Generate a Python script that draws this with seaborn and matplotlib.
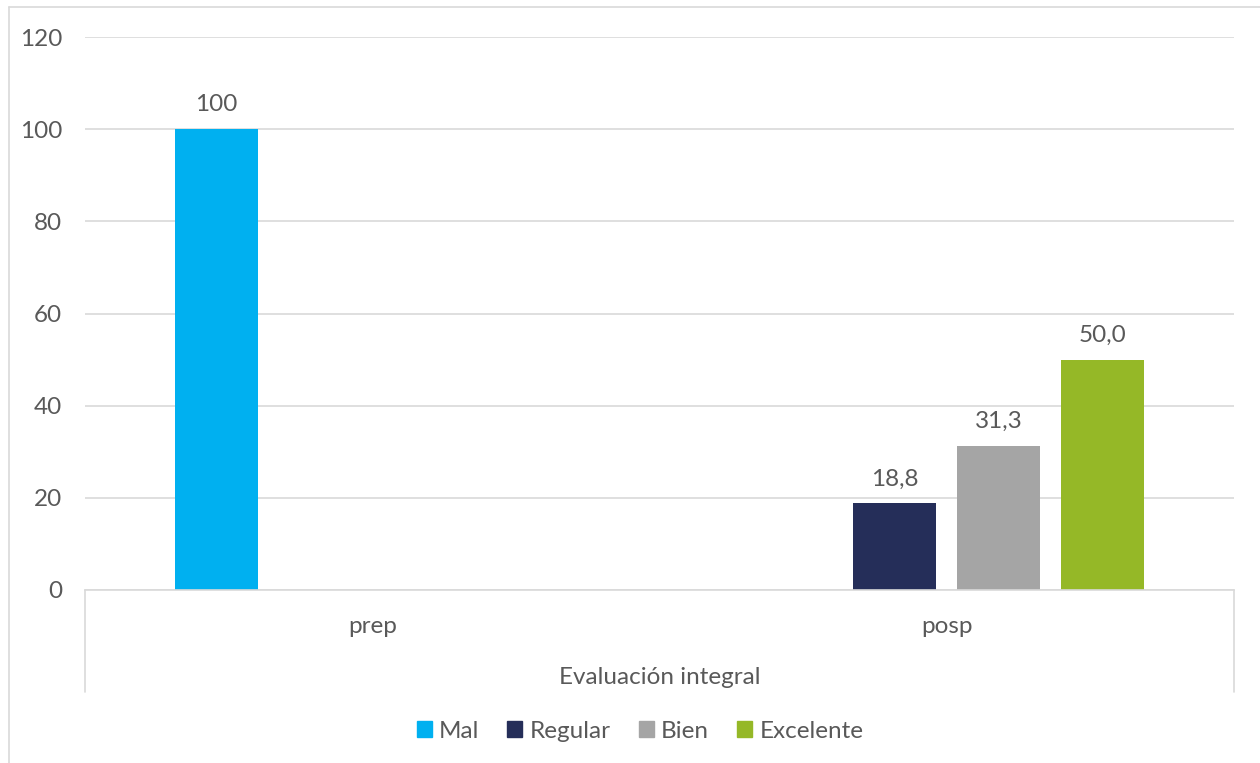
import matplotlib
matplotlib.use("Agg")
import matplotlib.pyplot as plt
import seaborn as sns
import pandas as pd
import numpy as np
from matplotlib.lines import Line2D
from matplotlib.patches import Rectangle

categories = ["prep", "posp"]
series = ["Mal", "Regular", "Bien", "Excelente"]
mal = [100.0, np.nan]
regular = [np.nan, 18.8]
bien = [np.nan, 31.3]
excelente = [np.nan, 50.0]
value_labels = {"Mal": ["100", ""], "Regular": ["", "18,8"], "Bien": ["", "31,3"], "Excelente": ["", "50,0"]}
colors = ["#00B0F0", "#252E59", "#A5A5A5", "#95B827"]
x_title = "Evaluación integral"
yticks = [0, 20, 40, 60, 80, 100, 120]

rows = []
for s, vals in zip(series, [mal, regular, bien, excelente]):
    for c, v, lab in zip(categories, vals, value_labels[s]):
        rows.append({"cat": c, "serie": s, "val": v, "lab": lab})
df = pd.DataFrame(rows).dropna(subset=["val"]).reset_index(drop=True)

sns.set_theme(style="white")
plt.rcParams["font.family"] = ["Lato", "DejaVu Sans"]
text_color = "#595959"
grid_color = "#D9D9D9"
fs = 17.5

fig = plt.figure(figsize=(12.6, 7.63), dpi=100)
ax = fig.add_axes([85 / 1260, 1 - 590 / 763, (1234 - 85) / 1260, (590 - 37) / 763])

sns.barplot(data=df, x="cat", y="val", hue="serie", order=categories, hue_order=series,
            palette=colors, width=0.723, gap=0.2, dodge=True, saturation=1, ax=ax,
            errorbar=None, linewidth=0)

ax.set_ylim(0, 120)
ax.set_xlim(-0.5, 1.5)
ax.set_yticks(yticks)
ax.yaxis.grid(True, color=grid_color, linewidth=1.2)
ax.set_axisbelow(True)
for sp in ["top", "right", "left"]:
    ax.spines[sp].set_visible(False)
ax.spines["bottom"].set_color(grid_color)
ax.spines["bottom"].set_linewidth(1.2)
ax.tick_params(axis="y", length=0, pad=16.5, labelsize=fs, labelcolor=text_color)
ax.tick_params(axis="x", length=0, pad=19, labelsize=fs, labelcolor=text_color)
ax.set_ylabel("")
ax.set_xlabel(x_title, fontsize=fs, color=text_color, labelpad=21)

# data labels
for s, cont in zip(series, ax.containers):
    labs = df.loc[df["serie"] == s, "lab"].tolist()
    ax.bar_label(cont, labels=labs, padding=10, fontsize=fs, color=text_color)

# legend
leg = ax.get_legend()
if leg is not None:
    leg.remove()
handles = [Rectangle((0, 0), 1, 1, color=c) for c in colors]
fig.legend(handles, series, loc="center", bbox_to_anchor=(640 / 1260, 1 - 731 / 763), ncol=4,
           frameon=False, fontsize=fs, labelcolor=text_color, handlelength=0.62, handleheight=0.62,
           handletextpad=0.3, columnspacing=1.15)

# category axis box lines
for xp in [85, 1234]:
    fig.add_artist(Line2D([xp / 1260, xp / 1260], [1 - 590 / 763, 1 - 692 / 763],
                          transform=fig.transFigure, color=grid_color, linewidth=1.2))
# outer chart border
fig.add_artist(Line2D([9 / 1260, 9 / 1260], [0, 1 - 7 / 763], transform=fig.transFigure,
                      color=grid_color, linewidth=1.2))
fig.add_artist(Line2D([9 / 1260, 1], [1 - 7 / 763, 1 - 7 / 763], transform=fig.transFigure,
                      color=grid_color, linewidth=1.2))

fig.savefig("out.png", dpi=100, facecolor="white")
